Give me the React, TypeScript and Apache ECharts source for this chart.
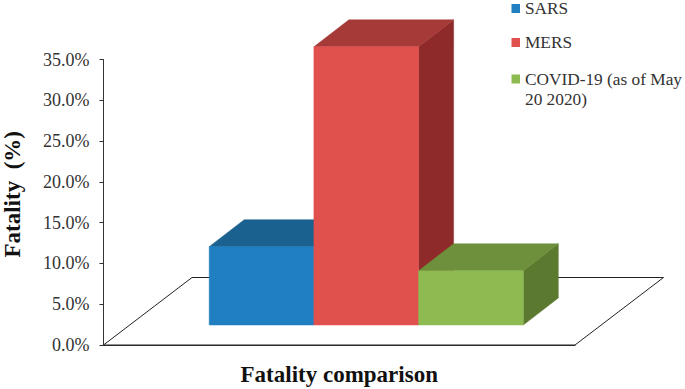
import React, { useEffect, useRef } from "react";
import * as echarts from "echarts";

const category = ["Fatality comparison"];
const tickFormat = (v: number) => v.toFixed(1) + "%";
const seriesNames = ["SARS", "MERS", "COVID-19 (as of May 20 2020)"];
const sarsValues = [9.6];
const mersValues = [34.1];
const covidValues = [6.65];
const fronts = ["#1F7FC1", "#E0504D", "#8DBB51"];
const tops = ["#1A618F", "#A63A38", "#6E8F3B"];
const sides = ["#175B87", "#8E2A2A", "#5B7A2F"];

const FONT = "Liberation Serif";
const DX = 35, DY = 27, BAR_W = 104.7, BASE_LIFT = 20, CENTER_SHIFT = 27;

const floorItem = (params: any) => {
  const { x, y, width, height } = params.coordSys;
  const b = y + height;
  return {
    type: "polyline",
    shape: { points: [[x, b], [x + 88.5, b - 67.5], [x + width + 88.5, b - 67.5], [x + width, b], [x, b]] },
    style: { fill: "none", stroke: "#222", lineWidth: 1 },
    silent: true,
  };
};

const barItem = (i: number) => (_: any, api: any) => {
  const zero = api.coord([api.value(0), 0]);
  const top = api.coord([api.value(0), api.value(1)]);
  const x0 = zero[0] + CENTER_SHIFT + (i - 1.5) * BAR_W;
  const x1 = x0 + BAR_W;
  const yb = zero[1] - BASE_LIFT;
  const yt = top[1] - BASE_LIFT;
  const poly = (pts: number[][], fill: string) => ({ type: "polygon", shape: { points: pts }, style: { fill, stroke: fill, lineWidth: 0.5 } });
  return {
    type: "group",
    children: [
      poly([[x1, yt], [x1 + DX, yt - DY], [x1 + DX, yb - DY], [x1, yb]], sides[i]),
      poly([[x0, yt], [x0 + DX, yt - DY], [x1 + DX, yt - DY], [x1, yt]], tops[i]),
      poly([[x0, yt], [x1, yt], [x1, yb], [x0, yb]], fronts[i]),
    ],
  };
};

const valuesList = [sarsValues, mersValues, covidValues];

export default function App() {
  const ref = useRef<HTMLDivElement>(null);
  useEffect(() => {
    const chart = echarts.init(ref.current!, undefined, { renderer: "svg" });
    const legendBase = {
      orient: "vertical" as const,
      icon: "rect",
      itemWidth: 8.5,
      itemHeight: 9,
      itemGap: 0,
      padding: 0,
      left: 511.5,
    };
    const legendText = { fontFamily: FONT, fontSize: 17.3, color: "#333" };
    chart.setOption({
      animation: false,
      backgroundColor: "#fff",
      grid: { left: 103.5, top: 59.5, width: 471.5, height: 285.5, outerBoundsMode: "none" },
      legend: [
        { ...legendBase, top: 0, data: [seriesNames[0]], textStyle: { ...legendText, lineHeight: 14 } },
        { ...legendBase, top: 34, data: [seriesNames[1]], textStyle: legendText },
        {
          ...legendBase,
          top: 49,
          data: [seriesNames[2]],
          formatter: () => " \nCOVID-19 (as of May\n20 2020)",
          textStyle: { ...legendText, lineHeight: 20 },
        },
      ],
      xAxis: {
        type: "category",
        data: category,
        name: category[0],
        nameLocation: "middle",
        nameGap: 18,
        nameTextStyle: { fontFamily: FONT, fontWeight: "bold", fontSize: 23, color: "#111" },
        axisTick: { show: false },
        axisLabel: { show: false },
        axisLine: { lineStyle: { color: "#333", width: 1 } },
      },
      yAxis: {
        type: "value",
        min: 0,
        max: 35,
        interval: 5,
        name: "Fatality  (%)",
        nameLocation: "middle",
        nameGap: 80,
        nameMoveOverlap: false,
        nameTextStyle: { fontFamily: FONT, fontWeight: "bold", fontSize: 23, color: "#111", padding: [0, 0, 0, 16] },
        splitLine: { show: false },
        axisLine: { show: true, lineStyle: { color: "#333", width: 1 } },
        axisTick: { show: true, length: 4, lineStyle: { color: "#333" } },
        axisLabel: { formatter: tickFormat, fontFamily: FONT, fontSize: 18, color: "#333", margin: 14 },
      },
      series: [
        {
          type: "custom",
          name: "floor",
          coordinateSystem: "cartesian2d",
          renderItem: floorItem,
          data: [[0, 0]],
          clip: false,
          silent: true,
        },
        ...seriesNames.map((name, i) => ({
          type: "custom",
          name,
          coordinateSystem: "cartesian2d",
          renderItem: barItem(i),
          itemStyle: { color: fronts[i] },
          encode: { x: 0, y: 1 },
          data: valuesList[i].map((v, k) => [k, v]),
          clip: false,
        })),
      ],
    });
    return () => chart.dispose();
  }, []);
  return <div ref={ref} style={{ position: "absolute", left: 0, top: 0, width: 685, height: 389 }} />;
}
